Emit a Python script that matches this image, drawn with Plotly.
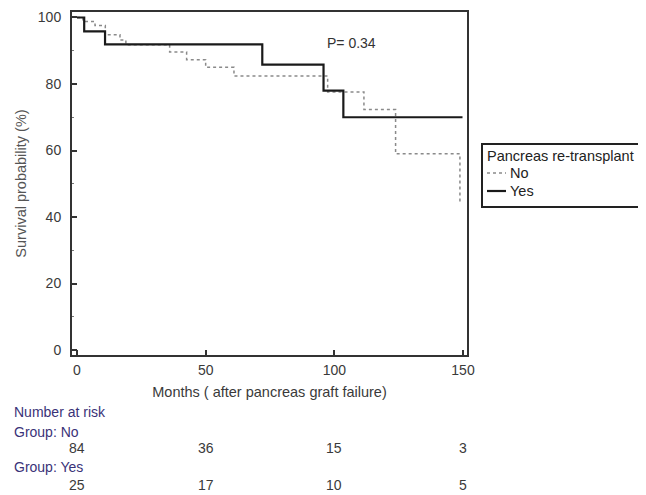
import plotly.graph_objects as go

# Kaplan-Meier step data (months, survival %)
no_t = [0, 2.3, 7, 11, 16.7, 19, 36, 42.6, 50, 61, 97.4, 111.5, 123.8, 148.8, 149.5]
no_s = [100, 98.8, 97.6, 94.8, 93.2, 91.8, 89.6, 87.3, 85.0, 82.4, 77.6, 72.3, 59.0, 44.5, 44.5]
yes_t = [0, 2.8, 10.9, 72, 95.8, 103.5, 149.8]
yes_s = [100, 95.8, 91.9, 85.8, 78.0, 70.0, 70.0]

risk_times = [0, 50, 100, 150]
risk_no = [84, 36, 15, 3]
risk_yes = [25, 17, 10, 5]

x_ticks = [0, 50, 100, 150]
y_ticks = [0, 20, 40, 60, 80, 100]

FONT = "Arial, Liberation Sans, sans-serif"
NAVY = "#3a3278"
GRAY = "#3a3a3a"
FS = 14

# page offset of the figure (default body margin) and plot area in page pixels
OFF = 8
L, R, T, B = 72 - OFF, 467 - OFF, 12 - OFF, 355 - OFF
W, H = R - L, B - T

def px(s):
    return (s - OFF - L) / W

def py(s):
    return (B - (s - OFF)) / H

NO_STYLE = dict(color="#8a8a8a", width=1.5, dash="dot")
YES_STYLE = dict(color="#1a1a1a", width=2.2)

fig = go.Figure()
fig.add_trace(go.Scatter(x=no_t, y=no_s, mode="lines", name="No",
                         line=dict(shape="hv", **NO_STYLE)))
fig.add_trace(go.Scatter(x=yes_t, y=yes_s, mode="lines", name="Yes",
                         line=dict(shape="hv", **YES_STYLE)))

fig.add_annotation(x=106.7, y=92.3, xref="x", yref="y", text="P= 0.34", showarrow=False,
                   xanchor="center", yanchor="middle",
                   font=dict(family=FONT, size=FS, color="#333333"))

# Number at risk table
for label, yy in [("Number at risk", 412), ("Group: No", 432), ("Group: Yes", 467)]:
    fig.add_annotation(x=px(12), y=py(yy), xref="paper", yref="paper", xanchor="left", yanchor="middle",
                       text=label, showarrow=False, font=dict(family=FONT, size=FS, color=NAVY))
for t, n in zip(risk_times, risk_no):
    fig.add_annotation(x=t, y=py(448), xref="x", yref="paper", text=str(n), showarrow=False,
                       xanchor="center", yanchor="middle",
                       font=dict(family=FONT, size=FS, color=GRAY))
for t, n in zip(risk_times, risk_yes):
    fig.add_annotation(x=t, y=py(485), xref="x", yref="paper", text=str(n), showarrow=False,
                       xanchor="center", yanchor="middle",
                       font=dict(family=FONT, size=FS, color=GRAY))

# Legend (boxed, drawn to match the original's compact layout)
fig.add_shape(type="rect", xref="paper", yref="paper", x0=px(482), x1=px(641), y0=py(207), y1=py(144),
              line=dict(color="#222222", width=2), fillcolor="white", layer="above")
fig.add_annotation(x=px(485), y=py(156), xref="paper", yref="paper", xanchor="left", yanchor="middle",
                   text="Pancreas re-transplant", showarrow=False,
                   font=dict(family=FONT, size=14.5, color="#222222"))
for name, style, yy in [("No", NO_STYLE, 173), ("Yes", YES_STYLE, 191)]:
    fig.add_shape(type="line", xref="paper", yref="paper", x0=px(487), x1=px(506), y0=py(yy), y1=py(yy),
                  line=style)
    fig.add_annotation(x=px(508), y=py(yy), xref="paper", yref="paper", xanchor="left", yanchor="middle",
                       text=name, showarrow=False, font=dict(family=FONT, size=14.5, color="#222222"))

fig.update_layout(
    width=646, height=495,
    margin=dict(l=L, r=646 - R, t=T, b=495 - B, autoexpand=False),
    paper_bgcolor="white", plot_bgcolor="white",
    font=dict(family=FONT, size=FS, color=GRAY),
    showlegend=False,
    xaxis=dict(range=[-1.94, 151.55], tickvals=x_ticks, showgrid=False, zeroline=False,
               showline=True, linecolor="#333333", linewidth=2, mirror=True,
               ticks="inside", ticklen=5, tickwidth=2, tickcolor="#333333",
               ticklabelstandoff=1,
               tickfont=dict(family=FONT, size=FS, color=GRAY),
               title=dict(text="Months ( after pancreas graft failure)", standoff=10,
                          font=dict(family=FONT, size=14.5, color=GRAY))),
    yaxis=dict(range=[-1.5, 101.65], tickvals=y_ticks, showgrid=False, zeroline=False,
               showline=True, linecolor="#333333", linewidth=2, mirror=True,
               ticks="inside", ticklen=5, tickwidth=2, tickcolor="#333333",
               ticklabelstandoff=6,
               minor=dict(tickvals=[10, 30, 50, 70, 90], ticks="inside", ticklen=2, tickwidth=1, tickcolor="#777777"),
               tickfont=dict(family=FONT, size=FS, color=GRAY),
               title=dict(text="Survival probability (%)", standoff=8,
                          font=dict(family=FONT, size=14.5, color="#555555"))),
)

fig.write_html("out.html")
